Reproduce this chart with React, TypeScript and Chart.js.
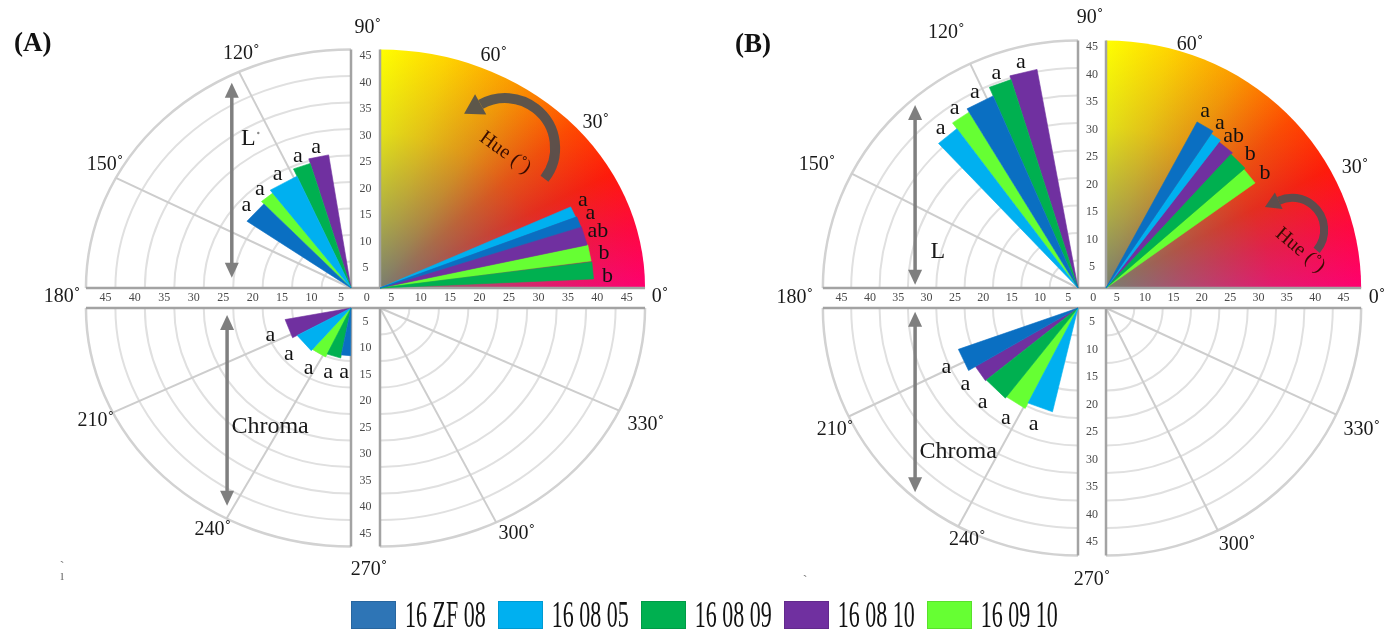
import React, { useEffect, useRef } from 'react';
import { Chart, registerables } from 'chart.js';
Chart.register(...registerables);

const W = 1394;
const H = 632;

// ---------------- data ----------------
const series = ['16 ZF 08', '16 08 05', '16 08 09', '16 08 10', '16 09 10'];
const ticks = [5, 10, 15, 20, 25, 30, 35, 40, 45];
const degreeText = ['90˚', '120˚', '60˚', '30˚', '150˚', '180˚', '0˚', '210˚', '240˚', '270˚', '300˚', '330˚'];

// Panel A  (series order: 16 ZF 08, 16 08 05, 16 08 09, 16 08 10, 16 09 10)
const hueA_r = [36.0, 35.8, 36.3, 36.1, 36.2];
const hueA_from = [18.7, 21.9, 2.7, 13.0, 8.1];
const hueA_to = [21.9, 25.3, 7.8, 18.7, 13.0];
const hueA_sig = ['a', 'a', 'b', 'ab', 'b'];
const lA_r = [21.7, 23.0, 24.5, 25.4, 22.3];
const lA_from = [133.0, 113.5, 106.4, 98.6, 126.6];
const lA_to = [144.5, 126.6, 113.5, 106.4, 133.0];
const lA_sig = ['a', 'a', 'a', 'a', 'a'];
const cA_r = [9.0, 10.5, 9.6, 11.4, 10.2];
const cA_from = [259.5, 209.5, 245.0, 191.0, 230.0];
const cA_to = [269.5, 230.0, 259.5, 209.5, 245.0];
const cA_sig = ['a', 'a', 'a', 'a', 'a'];

// Panel B
const hueB_r = [34.2, 33.6, 32.8, 33.2, 32.5];
const hueB_from = [56.5, 53.1, 41.6, 47.8, 36.0];
const hueB_to = [62.0, 56.5, 47.8, 53.1, 41.6];
const hueB_sig = ['a', 'a', 'b', 'ab', 'b'];
const lB_r = [38.0, 36.0, 39.7, 40.4, 37.3];
const lB_from = [113.2, 126.4, 107.3, 100.3, 121.0];
const lB_to = [121.0, 133.1, 113.2, 107.3, 126.4];
const lB_sig = ['a', 'a', 'a', 'a', 'a'];
const cB_r = [22.4, 19.4, 20.8, 21.0, 20.5];
const cB_from = [199.6, 243.0, 219.0, 210.5, 232.0];
const cB_to = [210.5, 256.6, 232.0, 219.0, 243.0];
const cB_sig = ['a', 'a', 'a', 'a', 'a'];

// ---------------- styles / layout ----------------
const wedgeColors = ['#0a6fc2', '#00b0f0', '#00b050', '#7030a0', '#66ff33'];
const legendColors = ['#2e75b6', '#00b0f0', '#00b050', '#7030a0', '#66ff33'];
const SERIF = '"Liberation Serif", "Times New Roman", serif';
const labelOffset: any = { hue: 2.4, L: 1.9, C: 3.2 };
const labelSpread: any = { hue: 0.22, L: 0, C: 0 };
// grid spokes as drawn in the figure (nominal 120/150/210/240/300/330)
const spokeDraw = [115, 152.5, 206, 242, 296, 334.5];

const panels: any[] = [
  {
    key: 'A', xId: 'xA', yId: 'yA', cx: 365.5, cy: 298, sx: 5.89, sy: 5.3, bandW: 29, bandH: 20,
    groups: {
      hue: { r: hueA_r, from: hueA_from, to: hueA_to, sig: hueA_sig },
      L: { r: lA_r, from: lA_from, to: lA_to, sig: lA_sig },
      C: { r: cA_r, from: cA_from, to: cA_to, sig: cA_sig },
    },
    degPos: [[0.4, 50.9], [-21.1, 46.0], [21.8, 45.7], [39.1, 33.0], [-44.2, 25.1], [-51.5, 0.3], [50.0, 0.3], [-45.8, -23.2], [-25.9, -43.8], [0.6, -51.3], [25.7, -44.5], [47.6, -24.0]],
    letter: [-56.5, 47.9],
    lText: [-19.9, 30.0], lDot: true, lArrow: [-22.7, 40.6, 3.8],
    cText: [-16.2, -24.3], cArrow: [-23.5, -3.2, -39.2],
    hueText: [23.7, 27.4, 36], hueArrow: [23.7, 28.3, 50, 38, -141, 10],
    marks: [[-51.5, -48.7, 'ˏ'], [-51.5, -52.6, 'ı']],
  },
  {
    key: 'B', xId: 'xB', yId: 'yB', cx: 1092, cy: 298, sx: 5.67, sy: 5.5, bandW: 28, bandH: 20,
    groups: {
      hue: { r: hueB_r, from: hueB_from, to: hueB_to, sig: hueB_sig },
      L: { r: lB_r, from: lB_from, to: lB_to, sig: lB_sig },
      C: { r: cB_r, from: cB_from, to: cB_to, sig: cB_sig },
    },
    degPos: [[-0.35, 50.9], [-25.7, 48.2], [17.3, 46.0], [46.4, 23.6], [-48.5, 24.2], [-52.4, 0.0], [50.3, 0.0], [-45.3, -24.0], [-22.0, -44.0], [0.0, -51.3], [25.6, -44.9], [47.6, -24.0]],
    letter: [-59.8, 46.0],
    lText: [-27.2, 8.4], lDot: false, lArrow: [-31.2, 35.1, 2.4],
    cText: [-23.6, -28.0], cArrow: [-31.2, -2.5, -35.3],
    hueText: [36.7, 8.7, 40], hueArrow: [35.3, 12.4, 32, 40, -142, 8],
    marks: [[-50.6, -49.5, 'ˏ']],
  },
];

const rad = (d: number) => (d * Math.PI) / 180;
function halfBand(p: any) {
  return [p.bandW / 2 / p.sx, p.bandH / 2 / p.sy];
}
function quadOrigin(p: any, angle: number) {
  const [hx, hy] = halfBand(p);
  const a = ((angle % 360) + 360) % 360;
  if (a < 90) return [hx, hy];
  if (a < 180) return [-hx, hy];
  if (a < 270) return [-hx, -hy];
  return [hx, -hy];
}
function polar(p: any, r: number, angle: number, mid?: number) {
  const o = quadOrigin(p, mid === undefined ? angle : mid);
  return { x: o[0] + r * Math.cos(rad(angle)), y: o[1] + r * Math.sin(rad(angle)) };
}

// ---------------- datasets ----------------
function buildDatasets() {
  const ds: any[] = [];
  panels.forEach((p) => {
    ['hue', 'L', 'C'].forEach((g) => {
      const grp = p.groups[g];
      series.forEach((s, i) => {
        const mid = (grp.from[i] + grp.to[i]) / 2;
        const o = quadOrigin(p, mid);
        const O = { x: o[0], y: o[1] };
        const P1 = polar(p, grp.r[i], grp.from[i], mid);
        const P2 = polar(p, grp.r[i], grp.to[i], mid);
        ds.push({
          label: s,
          xAxisID: p.xId,
          yAxisID: p.yId,
          data: [O, P1, P2, O],
          showLine: true,
          fill: 'shape',
          backgroundColor: wedgeColors[i],
          borderColor: wedgeColors[i],
          borderWidth: 0.6,
          pointRadius: 0,
          pointHoverRadius: 0,
          tension: 0,
        });
      });
    });
  });
  return ds;
}

// ---------------- drawing helpers ----------------
function txt(ctx: any, s: string, x: number, y: number, font: string, color: string, rot = 0, align = 'center') {
  ctx.save();
  ctx.translate(x, y);
  if (rot) ctx.rotate(rad(rot));
  ctx.font = font;
  ctx.fillStyle = color;
  ctx.textAlign = align;
  ctx.textBaseline = 'middle';
  ctx.fillText(s, 0, 0);
  ctx.restore();
}

function vArrow(ctx: any, x: number, y1: number, y2: number) {
  const hl = 15, hw = 7;
  ctx.save();
  ctx.strokeStyle = '#7f7f7f';
  ctx.fillStyle = '#7f7f7f';
  ctx.lineWidth = 3.5;
  ctx.beginPath();
  ctx.moveTo(x, y1 + hl - 2);
  ctx.lineTo(x, y2 - hl + 2);
  ctx.stroke();
  ctx.beginPath();
  ctx.moveTo(x, y1); ctx.lineTo(x - hw, y1 + hl); ctx.lineTo(x + hw, y1 + hl); ctx.closePath(); ctx.fill();
  ctx.beginPath();
  ctx.moveTo(x, y2); ctx.lineTo(x - hw, y2 - hl); ctx.lineTo(x + hw, y2 - hl); ctx.closePath(); ctx.fill();
  ctx.restore();
}

function curvedArrow(ctx: any, cx: number, cy: number, R: number, a0d: number, a1d: number, w: number) {
  const headLen = w * 1.9, headW = w * 1.15;
  const a0 = rad(a0d), a1 = rad(a1d);
  const ab = a1 + headLen / R;
  ctx.save();
  ctx.strokeStyle = 'rgba(80,80,80,0.92)';
  ctx.fillStyle = 'rgba(80,80,80,0.92)';
  ctx.lineWidth = w;
  ctx.lineCap = 'butt';
  ctx.beginPath();
  ctx.arc(cx, cy, R, a0, ab, true);
  ctx.stroke();
  const bx = cx + R * Math.cos(ab), by = cy + R * Math.sin(ab);
  const tx = Math.sin(ab), ty = -Math.cos(ab);
  const nx = Math.cos(ab), ny = Math.sin(ab);
  ctx.beginPath();
  ctx.moveTo(bx + tx * headLen, by + ty * headLen);
  ctx.lineTo(bx + nx * headW, by + ny * headW);
  ctx.lineTo(bx - nx * headW, by - ny * headW);
  ctx.closePath();
  ctx.fill();
  ctx.restore();
}

function scalesOf(chart: any, p: any) {
  const xs = chart.scales[p.xId], ys = chart.scales[p.yId];
  const X = (v: number) => xs.getPixelForValue(v);
  const Y = (v: number) => ys.getPixelForValue(v);
  return { X, Y, ux: X(1) - X(0), uy: Y(0) - Y(1) };
}

function drawBackground(chart: any, p: any) {
  const ctx = chart.ctx;
  const { X, Y, ux, uy } = scalesOf(chart, p);
  const [hx, hy] = halfBand(p);
  const R = ticks[ticks.length - 1];
  const quads = [
    [-hx, hy, -Math.PI, -Math.PI / 2],
    [-hx, -hy, Math.PI / 2, Math.PI],
    [hx, -hy, 0, Math.PI / 2],
  ];
  ctx.save();
  // concentric grid
  quads.forEach((q) => {
    ticks.forEach((r) => {
      ctx.beginPath();
      ctx.strokeStyle = r === R ? '#d2d2d2' : '#e0e0e0';
      ctx.lineWidth = r === R ? 2.5 : 2;
      ctx.ellipse(X(q[0]), Y(q[1]), r * ux, r * uy, 0, q[2], q[3]);
      ctx.stroke();
    });
  });
  // spokes
  ctx.strokeStyle = '#cdcdcd';
  ctx.lineWidth = 2;
  spokeDraw.forEach((a) => {
    const o = quadOrigin(p, a);
    const e = polar(p, R, a);
    ctx.beginPath();
    ctx.moveTo(X(o[0]), Y(o[1]));
    ctx.lineTo(X(e.x), Y(e.y));
    ctx.stroke();
  });
  ctx.restore();

  // hue colour quadrant
  ctx.save();
  ctx.translate(X(hx), Y(hy));
  ctx.scale(ux, uy);
  const cg = ctx.createConicGradient(-Math.PI / 2, 0, 0);
  cg.addColorStop(0, '#ffff00');
  cg.addColorStop(0.04, '#ffd400');
  cg.addColorStop(0.085, '#fb9800');
  cg.addColorStop(0.13, '#ff4a00');
  cg.addColorStop(0.17, '#ff1a0a');
  cg.addColorStop(0.21, '#ff0840');
  cg.addColorStop(0.25, '#ff0070');
  cg.addColorStop(1, '#ff0070');
  ctx.beginPath();
  ctx.moveTo(0, 0);
  ctx.arc(0, 0, R, -Math.PI / 2, 0);
  ctx.closePath();
  ctx.fillStyle = cg;
  ctx.fill();
  const rg = ctx.createRadialGradient(0, 0, 0, 0, 0, R);
  rg.addColorStop(0, 'rgba(122,126,112,1)');
  rg.addColorStop(0.3, 'rgba(122,124,112,0.62)');
  rg.addColorStop(0.65, 'rgba(122,122,112,0.22)');
  rg.addColorStop(1, 'rgba(122,122,112,0)');
  ctx.fillStyle = rg;
  ctx.fill();
  ctx.restore();

  // band lines
  ctx.save();
  ctx.strokeStyle = '#a3a3a3';
  ctx.lineWidth = 2.5;
  const ext = R + hx;
  [hy, -hy].forEach((y) => {
    ctx.beginPath(); ctx.moveTo(X(-ext), Y(y)); ctx.lineTo(X(ext), Y(y)); ctx.stroke();
  });
  [hx, -hx].forEach((x) => {
    ctx.beginPath(); ctx.moveTo(X(x), Y(hy)); ctx.lineTo(X(x), Y(R + hy)); ctx.stroke();
    ctx.beginPath(); ctx.moveTo(X(x), Y(-hy)); ctx.lineTo(X(x), Y(-R - hy)); ctx.stroke();
  });
  ctx.restore();

  // tick labels
  const tf = `12px ${SERIF}`;
  const tc = '#4a4a4a';
  ticks.forEach((v) => {
    txt(ctx, String(v), X(hx + v - 3.1), Y(0), tf, tc);
    txt(ctx, String(v), X(-hx - (v - 3.3)), Y(0), tf, tc);
    txt(ctx, String(v), X(0), Y(hy + v - 1.2), tf, tc);
    txt(ctx, String(v), X(0), Y(-hy - (v - 2.4)), tf, tc);
  });
  txt(ctx, '0', X(0.2), Y(0), tf, tc);
}

function drawOverlay(chart: any, p: any) {
  const ctx = chart.ctx;
  const { X, Y } = scalesOf(chart, p);
  // significance letters
  ['hue', 'L', 'C'].forEach((g) => {
    const grp = p.groups[g];
    const mids = series.map((s, i) => (grp.from[i] + grp.to[i]) / 2);
    const center = (Math.min(...mids) + Math.max(...mids)) / 2;
    series.forEach((s, i) => {
      const mid = mids[i];
      const la = mid + (mid - center) * labelSpread[g];
      const pt = polar(p, grp.r[i] + labelOffset[g], la, mid);
      txt(ctx, grp.sig[i], X(pt.x), Y(pt.y), `22px ${SERIF}`, '#111');
    });
  });
  // degree labels
  degreeText.forEach((t, i) => {
    const [x, y] = p.degPos[i];
    txt(ctx, t, X(x), Y(y), `20px ${SERIF}`, '#1a1a1a');
  });
  // panel letter
  txt(ctx, `(${p.key})`, X(p.letter[0]), Y(p.letter[1]), `bold 27px ${SERIF}`, '#111');
  // L / Chroma arrows and captions
  vArrow(ctx, X(p.lArrow[0]), Y(p.lArrow[1]), Y(p.lArrow[2]));
  vArrow(ctx, X(p.cArrow[0]), Y(p.cArrow[1]), Y(p.cArrow[2]));
  txt(ctx, 'L', X(p.lText[0]), Y(p.lText[1]), `24px ${SERIF}`, '#1a1a1a');
  if (p.lDot) {
    ctx.save();
    ctx.fillStyle = '#8a8a8a';
    ctx.beginPath();
    ctx.arc(X(p.lText[0]) + 10, Y(p.lText[1]) - 6, 1.2, 0, Math.PI * 2);
    ctx.fill();
    ctx.restore();
  }
  txt(ctx, 'Chroma', X(p.cText[0]), Y(p.cText[1]), `24px ${SERIF}`, '#1a1a1a');
  // hue arrow and caption
  const ha = p.hueArrow;
  curvedArrow(ctx, X(ha[0]), Y(ha[1]), ha[2], ha[3], ha[4], ha[5]);
  txt(ctx, 'Hue (˚)', X(p.hueText[0]), Y(p.hueText[1]), `20px ${SERIF}`, '#3a0c00', p.hueText[2]);
  // small stray marks
  p.marks.forEach((m: any) => txt(ctx, m[2], X(m[0]), Y(m[1]), `14px ${SERIF}`, '#777'));
}

const decorPlugin = {
  id: 'polarDecor',
  beforeDatasetsDraw(chart: any) {
    panels.forEach((p) => drawBackground(chart, p));
  },
  afterDatasetsDraw(chart: any) {
    panels.forEach((p) => drawOverlay(chart, p));
  },
};

function buildScales() {
  const sc: any = {};
  panels.forEach((p) => {
    sc[p.xId] = { type: 'linear', axis: 'x', position: 'bottom', display: false, min: -p.cx / p.sx, max: (W - p.cx) / p.sx };
    sc[p.yId] = { type: 'linear', axis: 'y', position: 'left', display: false, min: -(H - p.cy) / p.sy, max: p.cy / p.sy };
  });
  return sc;
}

export default function App() {
  const ref = useRef<HTMLCanvasElement>(null);
  useEffect(() => {
    const chart = new Chart(ref.current as HTMLCanvasElement, {
      type: 'scatter',
      data: { datasets: buildDatasets() },
      options: {
        responsive: false,
        animation: false,
        events: [],
        layout: { padding: 0 },
        scales: buildScales(),
        plugins: { legend: { display: false }, tooltip: { enabled: false } },
      } as any,
      plugins: [decorPlugin],
    } as any);
    return () => chart.destroy();
  }, []);

  return (
    <div style={{ position: 'absolute', left: 0, top: 0, width: W, height: H, background: '#fff', overflow: 'hidden' }}>
      <canvas ref={ref} width={W} height={H} style={{ position: 'absolute', left: 0, top: 0, width: W, height: H }} />
      <div
        style={{
          position: 'absolute', left: 351, top: 601, height: 28, display: 'flex', alignItems: 'center',
          fontFamily: SERIF, fontSize: 22, color: '#111', whiteSpace: 'nowrap',
        }}
      >
        {series.map((s, i) => (
          <div key={s} style={{ display: 'flex', alignItems: 'center', marginRight: 12 }}>
            <div style={{ width: 45, height: 28, background: legendColors[i], boxSizing: 'border-box', border: '1px solid rgba(0,0,0,0.12)' }} />
            <span style={{ marginLeft: 9, display: 'inline-block', transform: 'scaleY(1.7)', lineHeight: '28px' }}>{s}</span>
          </div>
        ))}
      </div>
    </div>
  );
}
